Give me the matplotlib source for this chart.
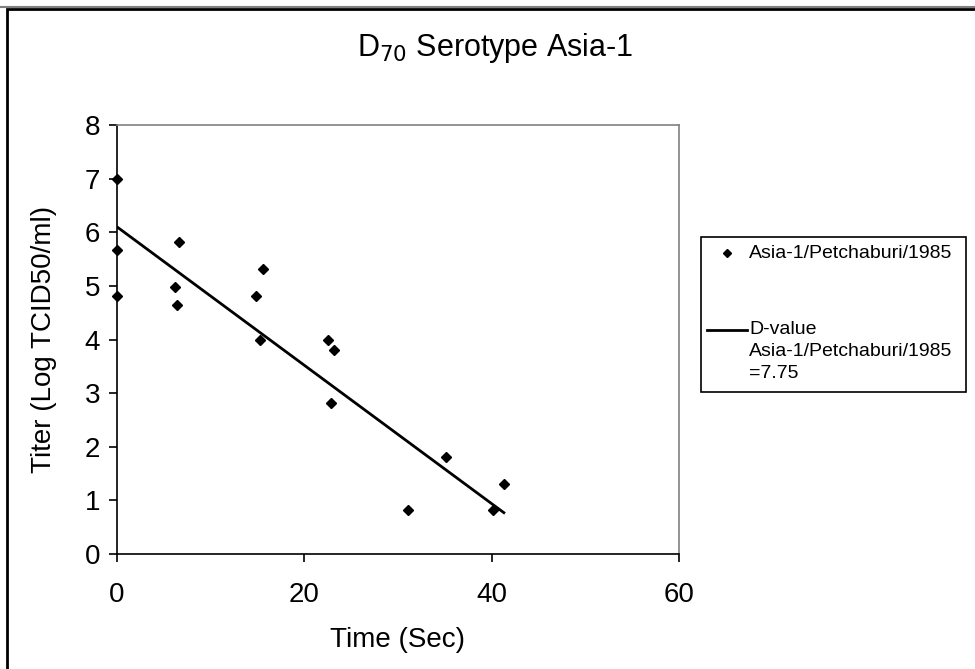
import matplotlib
matplotlib.use('Agg')
import matplotlib.pyplot as plt
from matplotlib.patches import Rectangle
from matplotlib.lines import Line2D

plt.rcParams['font.family'] = ['Liberation Sans', 'DejaVu Sans']

time_sec = [0, 0, 0, 6.6, 6.2, 6.4, 14.8, 15.6, 15.3, 22.5, 23.2, 22.8, 31.1, 35.1, 40.1, 41.3]
titer = [7.0, 5.66, 4.82, 5.81, 4.98, 4.65, 4.82, 5.31, 3.99, 3.99, 3.81, 2.82, 0.82, 1.80, 0.82, 1.31]

# trend line: intercept and D-value
intercept = 6.1
d_value = 7.75
fit_x = [0, 41.3]
fit_y = [intercept - t / d_value for t in fit_x]

x_ticks = [0, 20, 40, 60]
y_ticks = [0, 1, 2, 3, 4, 5, 6, 7, 8]

series_label = 'Asia-1/Petchaburi/1985'
fit_label = ['D-value', 'Asia-1/Petchaburi/1985', '=7.75']

fig = plt.figure(figsize=(9.75, 6.69), dpi=100)
W, H = 975, 669
ax = fig.add_axes([117 / W, 1 - 554 / H, (679 - 117) / W, (554 - 125) / H])

ax.plot(time_sec, titer, linestyle='none', marker='D', markersize=5.5,
        color='black', clip_on=False, zorder=3)
ax.plot(fit_x, fit_y, color='black', linewidth=2)

ax.set_xlim(0, 60)
ax.set_ylim(0, 8)
ax.set_xticks(x_ticks)
ax.set_yticks(y_ticks)
ax.tick_params(labelsize=20, length=6, width=1.2)
ax.tick_params(axis='x', pad=14)
ax.tick_params(axis='y', pad=6)
for s in ['left', 'bottom']:
    ax.spines[s].set_color('black')
    ax.spines[s].set_linewidth(1.2)
for s in ['top', 'right']:
    ax.spines[s].set_color('#808080')
    ax.spines[s].set_linewidth(1.2)

ax.set_xlabel('Time (Sec)', fontsize=20, labelpad=14)
ax.set_ylabel('Titer (Log TCID50/ml)', fontsize=20, labelpad=20)
fig.text(495 / W, 1 - 48 / H, r'D$_{70}$ Serotype Asia-1', fontsize=22,
         ha='center', va='center')

# legend, laid out like the spreadsheet one
def fx(px):
    return px / W

def fy(py):
    return 1 - py / H

fig.patches.append(Rectangle((fx(701), fy(392)), (966 - 701) / W, (392 - 237) / H,
                             transform=fig.transFigure, fill=False,
                             edgecolor='black', linewidth=1.2))
fig.lines.append(Line2D([fx(727)], [fy(253)], transform=fig.transFigure,
                        linestyle='none', marker='D', markersize=4.5, color='black'))
fig.text(fx(749), fy(253), series_label, fontsize=14, va='center')
fig.lines.append(Line2D([fx(707), fx(747)], [fy(330), fy(330)],
                        transform=fig.transFigure, color='black', linewidth=2))
for i, line in enumerate(fit_label):
    fig.text(fx(749), fy(330 + 22 * i), line, fontsize=14, va='center')

# chart border
fig.patches.append(Rectangle((fx(7), -0.05), 1.1, fy(9) + 0.05,
                             transform=fig.transFigure, fill=False,
                             edgecolor='black', linewidth=2))
fig.lines.append(Line2D([0, 1], [fy(7), fy(7)], transform=fig.transFigure,
                        color='#808080', linewidth=1.5))

fig.savefig('out.png', dpi=100)
